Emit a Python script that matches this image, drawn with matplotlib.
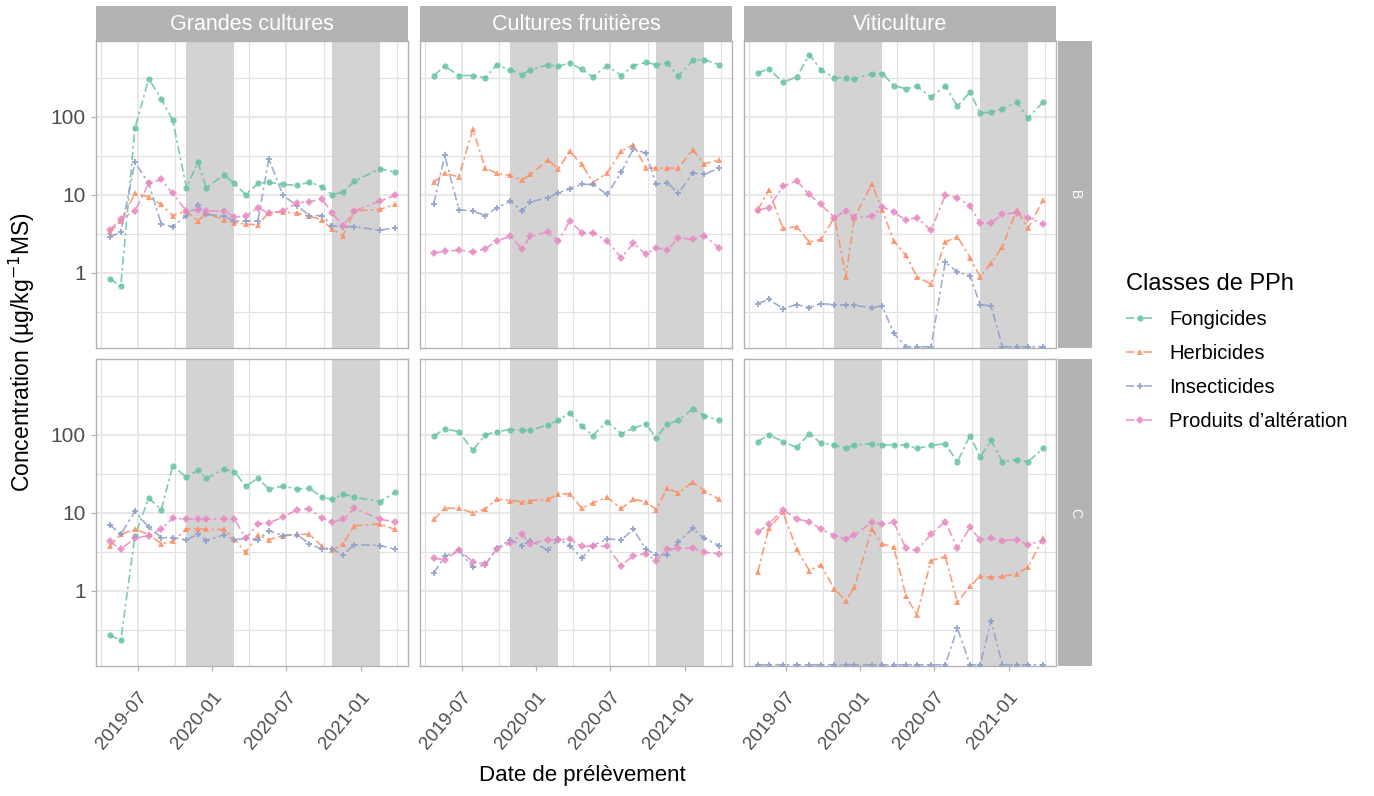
import matplotlib
matplotlib.use("Agg")
import matplotlib.pyplot as plt
import matplotlib.dates as mdates
from matplotlib.lines import Line2D
import numpy as np

plt.rcParams['font.family'] = ['Liberation Sans', 'DejaVu Sans']

# ---- data ----
# sampling dates (Cultures fruitieres, Viticulture)
dates = ['2019-04-23', '2019-05-20', '2019-06-24', '2019-07-28', '2019-08-28', '2019-09-25',
         '2019-10-29', '2019-11-26', '2019-12-17', '2020-01-29', '2020-02-24', '2020-03-23',
         '2020-04-22', '2020-05-19', '2020-06-23', '2020-07-28', '2020-08-27', '2020-09-27',
         '2020-10-22', '2020-11-18', '2020-12-16', '2021-01-20', '2021-02-17', '2021-03-26']
# Grandes cultures misses the 2021-01-20 sample
dates_gc = dates[:21] + dates[22:]

# winter periods (grey bands)
winters = [('2019-10-29', '2020-02-24'), ('2020-10-22', '2021-02-17')]

regions = ['Grandes cultures', 'Cultures fruitières', 'Viticulture']
sites = ['B', 'C']
classes = ['Fongicides', 'Herbicides', 'Insecticides', 'Produits d\u2019altération']

# site B
B_gc_fong = [0.84, 0.67, 72, 307, 170, 90, 12.3, 26, 12.3, 18, 14, 10, 14, 14.5, 13.6, 13.2, 14.5, 12.7, 10, 10.8, 15, 21.5, 19.5]
B_gc_herb = [3.3, 4.6, 10.4, 9.4, 7.5, 5.4, 6.2, 4.6, 5.8, 4.8, 4.4, 4.2, 4.1, 5.9, 6.0, 5.8, 5.3, 4.8, 3.6, 3.0, 6.2, 6.5, 7.5]
B_gc_ins = [2.9, 3.3, 26, 14, 4.2, 3.9, 5.4, 7.3, 5.6, 5.3, 4.6, 4.6, 4.6, 29, 9.8, 7.2, 5.4, 5.4, 4.0, 3.9, 3.9, 3.5, 3.8]
B_gc_alt = [3.5, 4.9, 6.2, 14, 15.7, 10.4, 6.2, 6.4, 6.2, 6.2, 5.2, 5.3, 6.8, 5.8, 6.2, 7.9, 8.1, 8.9, 5.8, 4.0, 6.2, 8.3, 9.8]

B_cf_fong = [339, 446, 339, 339, 316, 467, 398, 349, 398, 467, 446, 491, 405, 326, 455, 339, 455, 500, 467, 491, 333, 531, 543, 467]
B_cf_herb = [14.5, 18.8, 17, 69, 22, 18.8, 17.7, 15.4, 18.2, 27.8, 21.5, 36, 24.5, 14.3, 19, 36, 44, 22, 22, 22, 22, 38, 25, 27.8]
B_cf_ins = [7.7, 32, 6.4, 6.2, 5.4, 6.8, 8.3, 6.2, 8.1, 9.2, 10.6, 11.9, 13.6, 13.6, 10.1, 19.5, 39, 34, 13.6, 14.3, 10.4, 19.1, 18.2, 22]
B_cf_alt = [1.8, 1.87, 1.95, 1.84, 2.03, 2.55, 2.95, 1.99, 2.95, 3.3, 2.55, 4.6, 3.26, 3.26, 2.55, 1.56, 2.38, 1.72, 2.09, 1.95, 2.81, 2.67, 3.0, 2.09]

B_vi_fong = [366, 412, 278, 324, 628, 404, 316, 316, 307, 359, 359, 252, 229, 247, 180, 247, 137, 207, 112, 115, 126, 154, 97, 154]
B_vi_herb = [6.4, 11.5, 3.7, 3.9, 2.47, 2.67, 5.1, 0.89, 5.1, 13.6, 6.4, 2.55, 1.67, 0.89, 0.71, 2.47, 2.9, 1.56, 0.89, 1.32, 2.15, 6.4, 3.7, 8.5]
B_vi_ins = [0.40, 0.455, 0.345, 0.39, 0.356, 0.40, 0.39, 0.38, 0.38, 0.356, 0.374, 0.167, 0.112, 0.112, 0.112, 1.37, 1.02, 0.91, 0.39, 0.374, 0.112, 0.112, 0.112, 0.112]
B_vi_alt = [6.4, 6.8, 12.9, 15, 10.1, 7.5, 5.1, 6.2, 5.1, 5.3, 7.0, 6.0, 4.7, 5.1, 3.5, 9.8, 9.2, 7.2, 4.3, 4.4, 5.6, 5.9, 5.1, 4.2]

# site C
C_gc_fong = [0.27, 0.23, 5.1, 15.4, 11, 40, 28.6, 35, 27.7, 36, 33.8, 21.9, 27.7, 20.2, 21.9, 20.2, 20.6, 15.8, 14.8, 17.5, 15.8, 13.9, 18.3]
C_gc_herb = [3.7, 5.3, 6.1, 5.3, 4.0, 4.3, 6.2, 6.2, 6.1, 6.1, 4.6, 3.1, 5.2, 4.5, 5.1, 5.3, 5.3, 3.7, 3.3, 4.0, 6.8, 7.2, 6.1]
C_gc_ins = [7.0, 5.3, 10.4, 6.5, 4.8, 4.8, 4.5, 5.3, 4.4, 5.2, 4.5, 4.7, 4.5, 5.9, 5.1, 5.2, 4.0, 3.4, 3.4, 2.9, 3.9, 3.8, 3.4]
C_gc_alt = [4.3, 3.4, 4.7, 5.1, 6.2, 8.5, 8.3, 8.3, 8.3, 8.3, 8.3, 4.7, 7.2, 7.4, 8.8, 11, 11.2, 8.5, 7.7, 8.2, 11.4, 8.2, 7.7]

C_cf_fong = [96, 119, 110, 63, 100, 110, 117, 114, 114, 134, 153, 192, 129, 98, 148, 103, 122, 138, 91, 138, 153, 216, 177, 153]
C_cf_herb = [8.2, 11.4, 11.4, 10, 11.2, 15, 14.3, 13.9, 14.3, 14.8, 17.5, 17.5, 11.4, 13.4, 15.8, 11.4, 14.8, 13.9, 11, 20.6, 18, 24.7, 19.3, 14.8]
C_cf_ins = [1.69, 2.76, 3.3, 2.0, 2.14, 3.5, 4.5, 3.8, 4.4, 3.3, 4.6, 3.8, 2.6, 3.8, 4.6, 4.5, 6.1, 3.4, 2.9, 2.9, 4.2, 6.3, 4.7, 3.8]
C_cf_alt = [2.6, 2.5, 3.3, 2.36, 2.2, 3.4, 4.1, 5.3, 4.0, 4.5, 4.5, 4.6, 3.7, 3.7, 3.7, 2.1, 2.8, 3.0, 2.4, 3.4, 3.5, 3.5, 3.1, 3.0]

C_vi_fong = [82, 100, 82, 69, 103, 79, 74, 67, 74, 77, 74, 74, 74, 67, 73, 77, 45, 98, 52, 85, 45, 48, 45, 67]
C_vi_herb = [1.72, 6.3, 10.1, 3.4, 1.81, 2.14, 1.05, 0.74, 1.1, 6.1, 4.0, 3.6, 0.86, 0.49, 2.43, 2.76, 0.71, 1.14, 1.53, 1.48, 1.53, 1.64, 2.0, 4.7]
C_vi_ins = [0.112, 0.112, 0.112, 0.112, 0.112, 0.112, 0.112, 0.112, 0.112, 0.112, 0.112, 0.112, 0.112, 0.112, 0.112, 0.112, 0.33, 0.112, 0.112, 0.41, 0.112, 0.112, 0.112, 0.112]
C_vi_alt = [5.6, 7.2, 11, 8.3, 7.7, 6.2, 5.1, 4.6, 5.2, 7.5, 7.2, 7.5, 3.5, 3.3, 5.3, 7.7, 3.5, 6.5, 4.5, 4.7, 4.4, 4.5, 3.9, 4.4]

data = {
    ('B', 0): [B_gc_fong, B_gc_herb, B_gc_ins, B_gc_alt],
    ('B', 1): [B_cf_fong, B_cf_herb, B_cf_ins, B_cf_alt],
    ('B', 2): [B_vi_fong, B_vi_herb, B_vi_ins, B_vi_alt],
    ('C', 0): [C_gc_fong, C_gc_herb, C_gc_ins, C_gc_alt],
    ('C', 1): [C_cf_fong, C_cf_herb, C_cf_ins, C_cf_alt],
    ('C', 2): [C_vi_fong, C_vi_herb, C_vi_ins, C_vi_alt],
}

# ---- style ----
colors = ['#66c2a5', '#fc8d62', '#8da0cb', '#e78ac3']
markers = ['o', '^', 'P', 'D']
msizes = [4.5, 4.8, 4.8, 3.8]
dash = (0, (5, 2, 1.5, 2))
grey70 = '#b3b3b3'
grid_col = '#e2e2e2'
band_col = '#d3d3d3'
txt_col = '#4d4d4d'

W, H = 1374, 796
fig = plt.figure(figsize=(W / 100, H / 100), dpi=100)


def px(x, y, w, h):
    # pixel box (top-left origin) -> figure fraction
    return [x / W, 1 - (y + h) / H, w / W, h / H]


col_left = [96, 420, 744]
col_w = 312
row_top = [41, 359]
row_h = 307

xlim = (mdates.datestr2num('2019-03-20'), mdates.datestr2num('2021-04-27'))
major_x = mdates.datestr2num(['2019-07-01', '2020-01-01', '2020-07-01', '2021-01-01'])
minor_x = mdates.datestr2num(['2019-04-01', '2019-10-01', '2020-04-01', '2020-10-01', '2021-04-01'])

for r, site in enumerate(sites):
    for c in range(3):
        ax = fig.add_axes(px(col_left[c], row_top[r], col_w, row_h))
        ax.set_axisbelow(True)
        x = mdates.datestr2num(dates_gc if c == 0 else dates)
        for w0, w1 in winters:
            ax.axvspan(mdates.datestr2num(w0), mdates.datestr2num(w1), color=band_col, lw=0, zorder=1)
        for k, vals in enumerate(data[(site, c)]):
            ax.plot(x, vals, color=colors[k], ls=dash, lw=1.2, marker=markers[k],
                    ms=msizes[k], mew=0, alpha=0.85, zorder=3)
        ax.set_yscale('log')
        ax.set_ylim(0.108, 940)
        ax.set_xlim(xlim)
        ax.set_yticks([1, 10, 100])
        ax.set_yticks([0.316, 3.16, 31.6, 316], minor=True)
        ax.set_xticks(major_x)
        ax.set_xticks(minor_x, minor=True)
        ax.grid(which='major', color=grid_col, lw=1.1)
        ax.grid(which='minor', color=grid_col, lw=0.9)
        ax.tick_params(which='minor', length=0, labelleft=False, labelbottom=False)
        ax.tick_params(which='major', color=grey70, length=3.5, width=0.9,
                       labelcolor=txt_col, labelsize=15, pad=4)
        ax.set_yticklabels(['1', '10', '100'])
        ax.xaxis.set_major_formatter(mdates.DateFormatter('%Y-%m'))
        if c > 0:
            ax.tick_params(axis='y', which='both', left=False, labelleft=False)
        if r == 0:
            ax.tick_params(axis='x', which='both', bottom=False, labelbottom=False)
        else:
            ax.tick_params(axis='x', labelsize=13.5, pad=13)
            for lab in ax.get_xticklabels():
                lab.set_rotation(50)
                lab.set_ha('right')
                lab.set_va('top')
                lab.set_rotation_mode('anchor')
        for sp in ax.spines.values():
            sp.set_color(grey70)
            sp.set_linewidth(1.0)

        # right strip
        if c == 2:
            sax = fig.add_axes(px(1058, row_top[r], 34, row_h))
            sax.set_facecolor(grey70)
            sax.set_xticks([])
            sax.set_yticks([])
            for sp in sax.spines.values():
                sp.set_visible(False)
            sax.text(0.5, 0.5, site, color='white', fontsize=10, rotation=-90,
                     ha='center', va='center', transform=sax.transAxes)

# top strips
for c in range(3):
    sax = fig.add_axes(px(col_left[c], 6, col_w, 35))
    sax.set_facecolor(grey70)
    sax.set_xticks([])
    sax.set_yticks([])
    for sp in sax.spines.values():
        sp.set_visible(False)
    sax.text(0.5, 0.46, regions[c], color='white', fontsize=15.5,
             ha='center', va='center', transform=sax.transAxes)

# axis titles
fig.text(22 / W, 1 - 352 / H, 'Concentration (µg/kg$^{-1}$MS)', rotation=90,
         ha='center', va='center', fontsize=16.5, color='black')
fig.text(582 / W, 1 - 776 / H, 'Date de prélèvement', ha='center', va='center',
         fontsize=16, color='black')

# legend
handles = [Line2D([0], [0], color=colors[k], ls=dash, lw=1.2, marker=markers[k],
                  ms=msizes[k], mew=0, alpha=0.85) for k in range(4)]
fig.legend(handles, classes, title='Classes de PPh', loc='upper left',
           bbox_to_anchor=(1126 / W, 1 - 273 / H), frameon=False, fontsize=14.5,
           title_fontsize=17, handlelength=1.4, handletextpad=0.75, labelspacing=0.74,
           alignment='left', borderpad=0, borderaxespad=0)

fig.savefig('out.png', dpi=100)
